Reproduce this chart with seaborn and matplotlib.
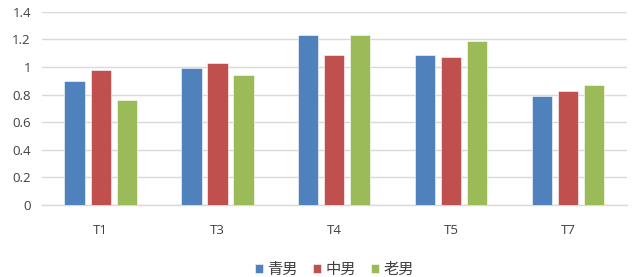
import pandas as pd
import matplotlib
matplotlib.use("Agg")
import matplotlib.pyplot as plt
import seaborn as sns

CATEGORIES = ["T1", "T3", "T4", "T5", "T7"]
GROUPS = ["青男", "中男", "老男"]
QING = [0.90, 0.99, 1.23, 1.09, 0.79]
ZHONG = [0.98, 1.03, 1.09, 1.07, 0.83]
LAO = [0.76, 0.94, 1.23, 1.19, 0.87]
COLORS = ["#4F81BD", "#C0504D", "#9BBB59"]

rows = []
for g, vals in zip(GROUPS, [QING, ZHONG, LAO]):
    for c, v in zip(CATEGORIES, vals):
        rows.append({"cat": c, "group": g, "value": v})
df = pd.DataFrame(rows)

sns.set_theme(style="white")
plt.rcParams["font.family"] = ["Open Sans", "Noto Sans CJK SC", "DejaVu Sans"]

fig = plt.figure(figsize=(6.33, 2.77), dpi=100)
ax = fig.add_axes([0.0664, 0.26, 0.924, 0.697])

sns.barplot(data=df, x="cat", y="value", hue="group", order=CATEGORIES,
            hue_order=GROUPS, palette=COLORS, width=0.667, gap=0.23,
            saturation=1, edgecolor="white", linewidth=0.4, ax=ax, zorder=3)

ax.set_ylim(0, 1.4)
ax.set_yticks([0, 0.2, 0.4, 0.6, 0.8, 1.0, 1.2, 1.4])
ax.set_yticklabels(["0", "0.2", "0.4", "0.6", "0.8", "1", "1.2", "1.4"])
ax.yaxis.grid(True, color="#D9D9D9", linewidth=1, zorder=0)
ax.set_axisbelow(True)
for s in ["top", "right", "left"]:
    ax.spines[s].set_visible(False)
ax.spines["bottom"].set_color("#D9D9D9")
ax.spines["bottom"].set_linewidth(1)
ax.set_xlabel("")
ax.set_ylabel("")
ax.tick_params(axis="both", length=0, labelsize=9.5, colors="#404040")
ax.tick_params(axis="x", pad=14)
ax.tick_params(axis="y", pad=8)

ax.legend(loc="upper center", bbox_to_anchor=(0.5, -0.22), ncol=3, frameon=False,
          handlelength=0.5, handleheight=0.5, handletextpad=0.3, columnspacing=1.0,
          prop={"family": ["Noto Sans CJK SC", "DejaVu Sans"], "size": 11,
                "weight": "light"},
          labelcolor="#404040")

fig.savefig("out.png", dpi=100)
